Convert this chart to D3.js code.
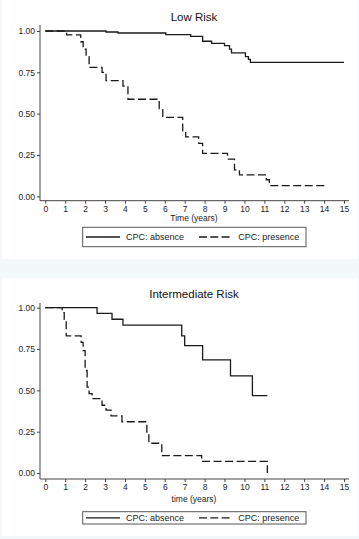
<!DOCTYPE html>
<html>
<head>
<meta charset="utf-8">
<script src="https://cdn.jsdelivr.net/npm/d3@7"></script>
<style>
  body { margin: 0; background: #f3f9f9; }
  svg { display: block; font-family: "Liberation Sans", Arial, sans-serif; }
</style>
</head>
<body>
<div id="chart"></div>
<script>
// Kaplan-Meier curves
const xTicks = d3.range(0, 16);
const yTicks = [0, 0.25, 0.5, 0.75, 1];
const legendLabels = ["CPC: absence", "CPC: presence"];

const lowAbsTime = [0, 3.05, 3.65, 6.05, 7.3, 7.9, 8.35, 9.0, 9.25, 9.35, 10.05, 10.2, 10.3, 15.0];
const lowAbsSurv = [1, 0.994, 0.988, 0.978, 0.967, 0.938, 0.925, 0.912, 0.89, 0.868, 0.845, 0.828, 0.81, 0.81];

const lowPreTime = [0, 1.07, 1.78, 1.9, 2.05, 2.2, 2.85, 3.05, 3.9, 4.15, 5.72, 5.9, 6.9, 7.05, 7.7, 7.9, 9.15, 9.5, 9.75, 11.1, 11.25, 14.15];
const lowPreSurv = [1, 0.976, 0.935, 0.89, 0.845, 0.78, 0.75, 0.70, 0.667, 0.587, 0.53, 0.478, 0.39, 0.36, 0.32, 0.26, 0.225, 0.16, 0.13, 0.10, 0.065, 0.065];

const intAbsTime = [0, 2.6, 3.35, 3.9, 6.85, 7.0, 7.9, 9.3, 10.4, 11.15];
const intAbsSurv = [1, 0.966, 0.93, 0.894, 0.83, 0.77, 0.684, 0.587, 0.468, 0.468];

const intPreTime = [0, 0.85, 0.95, 1.05, 1.8, 1.9, 2.0, 2.1, 2.2, 2.35, 2.85, 3.05, 3.3, 3.85, 5.1, 5.2, 5.85, 7.85, 11.15];
const intPreSurv = [1, 0.97, 0.93, 0.83, 0.79, 0.74, 0.62, 0.52, 0.48, 0.45, 0.41, 0.38, 0.345, 0.31, 0.24, 0.18, 0.105, 0.07, 0];

const W = 359, H = 539;
const svg = d3.select("#chart").append("svg")
    .attr("width", W)
    .attr("height", H);

const zip = (t, s) => t.map((d, i) => ({ t: d, s: s[i] }));

function drawPanel(cfg) {
    const g = svg.append("g").attr("transform", `translate(0, ${cfg.top})`);

    g.append("rect")
        .attr("x", 2).attr("y", 0)
        .attr("width", 356).attr("height", cfg.panelH)
        .attr("fill", "#fff");

    const x = d3.scaleLinear().domain([0, 15]).range([45.3, 344]);
    const y = d3.scaleLinear().domain([0, 1]).range([cfg.y0, cfg.y1]);

    // title
    g.append("text")
        .attr("x", 194).attr("y", cfg.titleY)
        .attr("text-anchor", "middle")
        .attr("font-size", 11.5)
        .attr("fill", "#111")
        .text(cfg.title);

    // axes
    const yAxis = d3.axisLeft(y).tickValues(yTicks).tickFormat(d3.format(".2f")).tickSize(3).tickPadding(2);
    const xAxis = d3.axisBottom(x).tickValues(xTicks).tickSize(3).tickPadding(2);

    const ya = g.append("g").attr("transform", "translate(40,0)").call(yAxis);
    ya.select(".domain").attr("d", `M0,${cfg.axisTop}V${cfg.axisY}`);
    const xa = g.append("g").attr("transform", `translate(0,${cfg.axisY})`).call(xAxis);
    xa.select(".domain").attr("d", "M40,0H349");

    [ya, xa].forEach(a => {
        a.selectAll(".domain, line").attr("stroke", "#444").attr("stroke-width", 1);
        a.selectAll("text").attr("font-size", 8.5).attr("fill", "#222")
            .attr("font-family", "'Liberation Sans', Arial, sans-serif");
    });

    g.append("text")
        .attr("x", 194).attr("y", cfg.xLabelY)
        .attr("text-anchor", "middle")
        .attr("font-size", 8.5)
        .attr("fill", "#222")
        .text(cfg.xLabel);

    // curves
    const line = d3.line()
        .x(d => x(d.t))
        .y(d => y(d.s))
        .curve(d3.curveStepAfter);

    g.append("path")
        .datum(zip(cfg.absT, cfg.absS))
        .attr("d", line)
        .attr("fill", "none")
        .attr("stroke", "#1a1a1a")
        .attr("stroke-width", 1.3);

    g.append("path")
        .datum(zip(cfg.preT, cfg.preS))
        .attr("d", line)
        .attr("fill", "none")
        .attr("stroke", "#1a1a1a")
        .attr("stroke-width", 1.3)
        .attr("stroke-dasharray", "8,3.5");

    // legend
    const lg = g.append("g").attr("transform", `translate(82.7, ${cfg.legTop})`);
    lg.append("rect")
        .attr("width", 223.3).attr("height", cfg.legH)
        .attr("fill", "#fff")
        .attr("stroke", "#555")
        .attr("stroke-width", 1);
    const mid = cfg.legH / 2;
    lg.append("line").attr("x1", 3.3).attr("x2", 37.3).attr("y1", mid).attr("y2", mid)
        .attr("stroke", "#1a1a1a").attr("stroke-width", 1.3);
    lg.append("text").attr("x", 43.3).attr("y", mid + 3.2).attr("font-size", 9).attr("fill", "#222")
        .text(legendLabels[0]);
    lg.append("line").attr("x1", 116.3).attr("x2", 150).attr("y1", mid).attr("y2", mid)
        .attr("stroke", "#1a1a1a").attr("stroke-width", 1.3).attr("stroke-dasharray", "8,3.3");
    lg.append("text").attr("x", 155.6).attr("y", mid + 3.2).attr("font-size", 9).attr("fill", "#222")
        .text(legendLabels[1]);
}

drawPanel({
    top: 0, panelH: 259,
    title: "Low Risk", titleY: 21,
    y0: 196.3, y1: 31, axisTop: 25, axisY: 200.7,
    xLabel: "Time (years)", xLabelY: 220.5,
    legTop: 227.3, legH: 19.4,
    absT: lowAbsTime, absS: lowAbsSurv,
    preT: lowPreTime, preS: lowPreSurv
});

drawPanel({
    top: 278, panelH: 258,
    title: "Intermediate Risk", titleY: 19.5,
    y0: 195, y1: 29.7, axisTop: 25, axisY: 201,
    xLabelY: 223.5, xLabel: "time (years)",
    legTop: 233.7, legH: 12.3,
    absT: intAbsTime, absS: intAbsSurv,
    preT: intPreTime, preS: intPreSurv
});
</script>
</body>
</html>
